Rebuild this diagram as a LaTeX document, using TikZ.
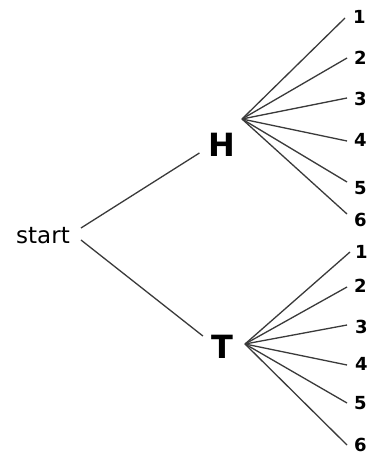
\documentclass[tikz,border=0pt]{standalone}
\usepackage{fontspec}
\setmainfont{DejaVu Sans}
\definecolor{linegray}{HTML}{3A3A3A}
\begin{document}
\begin{tikzpicture}[x=1pt,y=-1pt,
  edge/.style={draw=linegray,line width=1.3pt},
  startlbl/.style={font=\fontsize{23}{23}\selectfont,inner sep=0pt},
  coin/.style={font=\bfseries\fontsize{32}{32}\selectfont,inner sep=0pt},
  die/.style={font=\bfseries\fontsize{18}{18}\selectfont,inner ysep=0pt,anchor=west}]
\useasboundingbox (0,0) rectangle (369,458);
\fill[white] (0,0) rectangle (369,458);
\node[startlbl] (start) at (43,236) {start};
\node[coin] (H) at (222,145) {H};
\node[coin] (T) at (222,347) {T};
\coordinate (Hf) at (242,119);
\coordinate (Tf) at (245,344);
\draw[edge] ([xshift=11pt,yshift=8pt]start.east) -- ([xshift=-9pt,yshift=-8pt]H.west);
\draw[edge] ([xshift=11pt,yshift=-4pt]start.east) -- ([xshift=-8pt,yshift=11pt]T.west);
\foreach \i/\ex/\ly/\d/\g in {1/345/17/-1/8, 2/347/58/0/7, 3/347/99/1/7, 4/347/140/-1/7, 5/347/188/6/7, 6/347/220/6/7}{
  \node[die,inner xsep=\g pt] (h\i) at (\ex,\ly) {\i};
  \draw[edge] (Hf) -- ([yshift=\d pt]h\i.west);
}
\foreach \i/\ex/\ly/\d/\g in {1/350/252/0/5, 2/347/286/-1/7, 3/347/327/2/8, 4/347/364/-1/8, 5/347/403/0/7, 6/347/445/0/7}{
  \node[die,inner xsep=\g pt] (t\i) at (\ex,\ly) {\i};
  \draw[edge] (Tf) -- ([yshift=\d pt]t\i.west);
}
\end{tikzpicture}
\end{document}
